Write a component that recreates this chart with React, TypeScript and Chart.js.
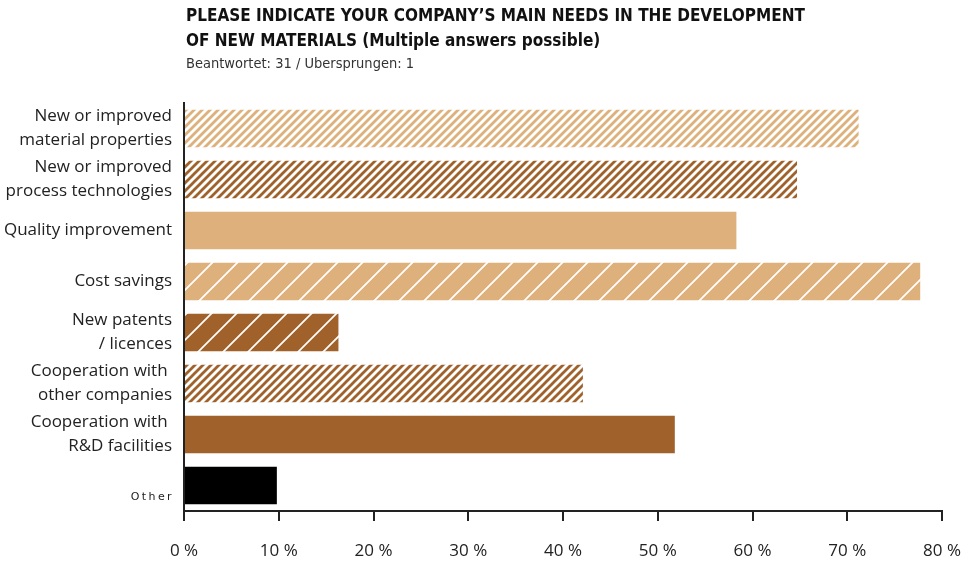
import React, { useEffect, useRef } from 'react';
import { Chart, registerables } from 'chart.js';

Chart.register(...registerables);

const titleLines = [
  'PLEASE INDICATE YOUR COMPANY\u2019S MAIN NEEDS IN THE DEVELOPMENT',
  'OF NEW MATERIALS (Multiple answers possible)',
];
const subtitle = 'Beantwortet: 31 / Ubersprungen: 1';

const categories: (string | string[])[] = [
  ['New or improved', 'material properties'],
  ['New or improved', 'process technologies'],
  'Quality improvement',
  'Cost savings',
  ['New patents', '/ licences'],
  ['Cooperation with ', 'other companies'],
  ['Cooperation with ', 'R&D facilities'],
  'Other',
];
const values = [71.2, 64.7, 58.3, 77.7, 16.3, 42.1, 51.8, 9.8];
const fillKinds = ['tanDense', 'brownDense', 'tanSolid', 'tanSparse', 'brownSparse', 'brownDense', 'brownSolid', 'black'];
const xTickValues = [0, 10, 20, 30, 40, 50, 60, 70, 80];

const TAN = '#DDB07C';
const BROWN = '#A0622A';
const LABEL_FONT = '"Open Sans", "Noto Sans", sans-serif';

function densePattern(color: string): CanvasPattern {
  const s = 8;
  const c = document.createElement('canvas');
  c.width = s;
  c.height = s;
  const g = c.getContext('2d')!;
  g.fillStyle = '#ffffff';
  g.fillRect(0, 0, s, s);
  g.strokeStyle = color;
  g.lineWidth = 2.8;
  g.beginPath();
  for (const o of [-s, 0, s]) {
    g.moveTo(o - 2, s + 2);
    g.lineTo(o + s + 2, -2);
  }
  g.stroke();
  return g.createPattern(c, 'repeat')!;
}

function sparsePattern(color: string): CanvasPattern {
  const s = 25;
  const c = document.createElement('canvas');
  c.width = s;
  c.height = s;
  const g = c.getContext('2d')!;
  g.fillStyle = color;
  g.fillRect(0, 0, s, s);
  g.strokeStyle = '#ffffff';
  g.lineWidth = 1.7;
  g.beginPath();
  for (const o of [-s, 0, s]) {
    g.moveTo(o - 2, s + 2);
    g.lineTo(o + s + 2, -2);
  }
  g.stroke();
  return g.createPattern(c, 'repeat')!;
}

export default function App() {
  const ref = useRef<HTMLCanvasElement | null>(null);

  useEffect(() => {
    const canvas = ref.current;
    if (!canvas) return;
    const fills: Record<string, string | CanvasPattern> = {
      tanDense: densePattern(TAN),
      brownDense: densePattern(BROWN),
      tanSolid: TAN,
      tanSparse: sparsePattern(TAN),
      brownSparse: sparsePattern(BROWN),
      brownSolid: BROWN,
      black: '#000000',
    };

    const titlePlugin = {
      id: 'customText',
      afterDraw(chart: any) {
        const ctx = chart.ctx as CanvasRenderingContext2D;
        const left = chart.chartArea.left + 2;
        ctx.save();
        ctx.fillStyle = '#111111';
        ctx.textAlign = 'left';
        ctx.textBaseline = 'middle';
        ctx.font = 'bold 17px "Liberation Sans Narrow", "DejaVu Sans Condensed", sans-serif';
        ctx.fillText(titleLines[0], left, 17);
        ctx.fillText(titleLines[1], left, 42);
        ctx.font = '14.5px "Liberation Sans Narrow", "DejaVu Sans Condensed", sans-serif';
        ctx.fillStyle = '#333333';
        ctx.fillText(subtitle, left, 64);

        // small letter-spaced "Other" label
        const yScale = chart.scales.y;
        const idx = categories.length - 1;
        const y = yScale.getPixelForValue(idx) + 12;
        ctx.font = '11px "DejaVu Sans", sans-serif';
        ctx.fillStyle = '#222222';
        (ctx as any).letterSpacing = '2.4px';
        ctx.textAlign = 'right';
        ctx.fillText(String(categories[idx]), chart.chartArea.left - 10, y);
        ctx.restore();
      },
    };

    const chart = new Chart(canvas, {
      type: 'bar',
      data: {
        labels: categories as any,
        datasets: [
          {
            data: values,
            backgroundColor: fillKinds.map((k) => fills[k]) as any,
            borderWidth: 0,
            categoryPercentage: 1,
            barPercentage: 0.74,
          },
        ],
      },
      options: {
        indexAxis: 'y',
        animation: false,
        responsive: false,
        maintainAspectRatio: false,
        layout: { padding: { top: 103, right: 0, left: 0, bottom: 0 } },
        plugins: {
          legend: { display: false },
          tooltip: { enabled: false },
          title: { display: false },
        },
        scales: {
          x: {
            type: 'linear',
            min: 0,
            max: 80,
            afterBuildTicks: (s: any) => {
              s.ticks = xTickValues.map((v) => ({ value: v }));
            },
            ticks: {
              callback: (v: any) => `${v} %`,
              font: { family: LABEL_FONT, size: 17 },
              color: '#222222',
              padding: 20,
              maxRotation: 0,
              autoSkip: false,
            },
            grid: {
              drawOnChartArea: false,
              drawTicks: true,
              tickLength: 10,
              color: '#222222',
              lineWidth: 2,
            },
            border: { display: true, color: '#222222', width: 2 },
            afterFit: (s: any) => {
              s.height = 51;
              s.paddingRight = 34;
              s.paddingLeft = 0;
            },
          },
          y: {
            type: 'category',
            ticks: {
              autoSkip: false,
              padding: 12,
              color: '#222222',
              font: { family: LABEL_FONT, size: 17, lineHeight: 1.4 },
              callback: (_v: any, i: number) => (i === categories.length - 1 ? '' : (categories[i] as any)),
            },
            grid: { display: false, drawTicks: false },
            border: { display: true, color: '#222222', width: 2 },
            afterFit: (s: any) => {
              s.width = 184;
            },
          },
        },
      },
      plugins: [titlePlugin],
    });
    return () => chart.destroy();
  }, []);

  return (
    <div style={{ position: 'absolute', left: 0, top: 0, width: 976, height: 562, background: '#ffffff' }}>
      <canvas ref={ref} width={976} height={562} style={{ width: 976, height: 562, display: 'block' }} />
    </div>
  );
}
